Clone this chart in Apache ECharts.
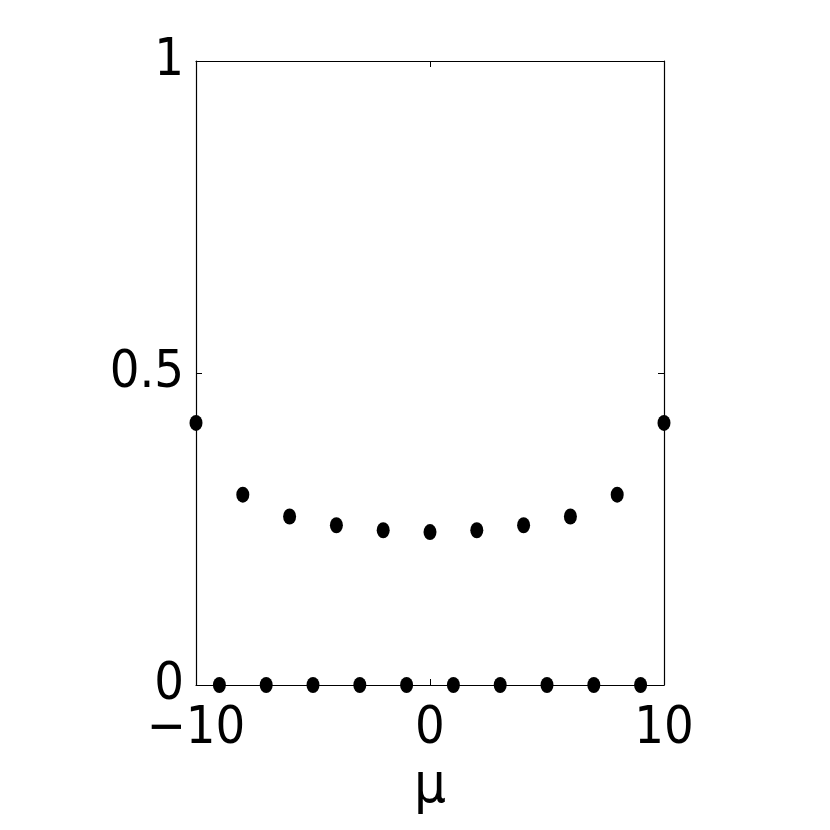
<!DOCTYPE html>
<html>
<head>
<meta charset="utf-8">
<script src="https://cdn.jsdelivr.net/npm/echarts@6/dist/echarts.min.js"></script>
<style>
  html, body { margin: 0; padding: 0; background: #fff; }
  #main { width: 830px; height: 830px; }
</style>
</head>
<body>
<div id="main"></div>
<script>
// values
var muUpper = [-10, -8, -6, -4, -2, 0, 2, 4, 6, 8, 10];
var valUpper = [0.42, 0.305, 0.27, 0.256, 0.248, 0.245, 0.248, 0.256, 0.27, 0.305, 0.42];
var muLower = [-9, -7, -5, -3, -1, 1, 3, 5, 7, 9];
var valLower = [0, 0, 0, 0, 0, 0, 0, 0, 0, 0];
var xTicks = [-10, 0, 10];
var yTicks = [0, 0.5, 1];

var font = '"Liberation Sans Narrow", "DejaVu Sans Condensed", "Liberation Sans", Arial, sans-serif';

function pairs(xs, ys) {
  return xs.map(function (x, i) { return [x, ys[i]]; });
}

var chartDom = document.getElementById('main');
var myChart = echarts.init(chartDom);

var lineStyle = { color: '#000', width: 1.2 };
var tickStyle = { show: true, inside: true, length: 6, lineStyle: { color: '#000', width: 1 } };

myChart.setOption({
  animation: false,
  backgroundColor: '#fff',
  grid: { left: 196, right: 166, top: 61, bottom: 145 },
  xAxis: [
    {
      type: 'value', min: -10, max: 10, interval: 10, position: 'bottom',
      axisLine: { show: true, onZero: false, lineStyle: lineStyle },
      axisTick: tickStyle,
      splitLine: { show: false },
      axisLabel: {
        color: '#000', fontFamily: font, fontSize: 52, margin: 18,
        formatter: function (v) { return xTicks.indexOf(v) >= 0 ? String(v).replace('-', '\u2212') : ''; }
      },
      name: 'μ', nameLocation: 'middle', nameGap: 72,
      nameTextStyle: { color: '#000', fontFamily: font, fontSize: 56 }
    },
    {
      type: 'value', min: -10, max: 10, interval: 10, position: 'top',
      axisLine: { show: true, onZero: false, lineStyle: lineStyle },
      axisTick: tickStyle,
      splitLine: { show: false },
      axisLabel: { show: false }
    }
  ],
  yAxis: [
    {
      type: 'value', min: 0, max: 1, interval: 0.5, position: 'left',
      axisLine: { show: true, onZero: false, lineStyle: lineStyle },
      axisTick: tickStyle,
      splitLine: { show: false },
      axisLabel: {
        color: '#000', fontFamily: font, fontSize: 52, margin: 12,
        formatter: function (v) { return yTicks.indexOf(v) >= 0 ? String(v) : ''; }
      }
    },
    {
      type: 'value', min: 0, max: 1, interval: 0.5, position: 'right',
      axisLine: { show: true, onZero: false, lineStyle: lineStyle },
      axisTick: tickStyle,
      splitLine: { show: false },
      axisLabel: { show: false }
    }
  ],
  series: [
    {
      type: 'scatter', clip: false,
      symbol: 'circle', symbolSize: [13, 16],
      itemStyle: { color: '#000', opacity: 1 },
      data: pairs(muUpper, valUpper)
    },
    {
      type: 'scatter', clip: false,
      symbol: 'circle', symbolSize: [13, 16],
      itemStyle: { color: '#000', opacity: 1 },
      data: pairs(muLower, valLower)
    }
  ]
});

window.onresize = function () { myChart.resize(); };
</script>
</body>
</html>
